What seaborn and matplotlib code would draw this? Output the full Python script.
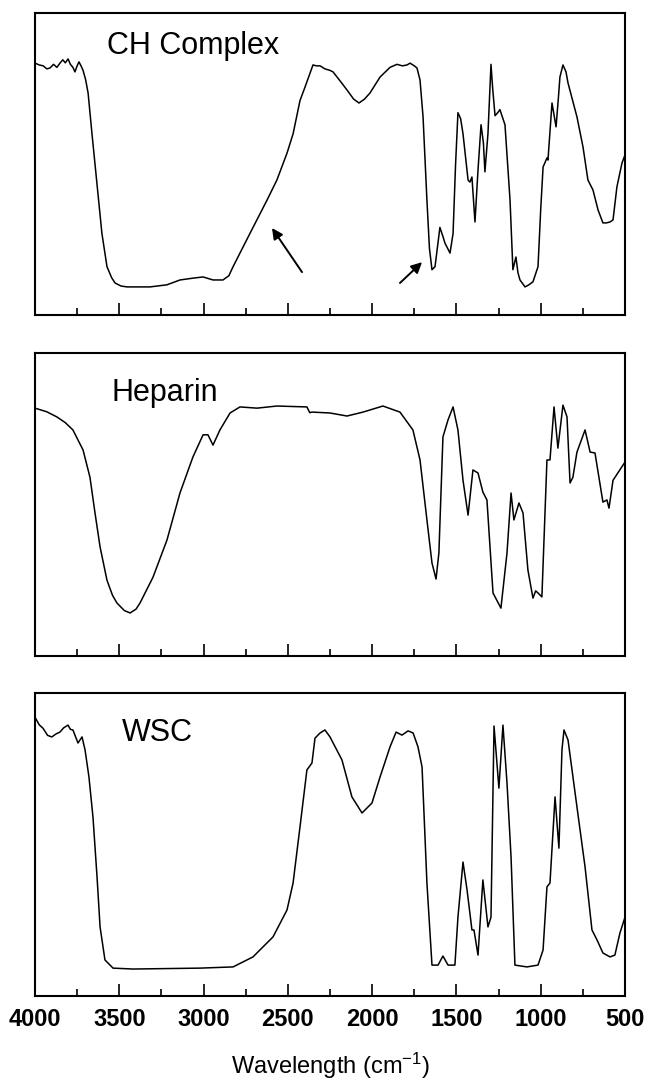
import numpy as np
import pandas as pd
import matplotlib
matplotlib.use("Agg")
import matplotlib.pyplot as plt
from matplotlib.ticker import MultipleLocator
import seaborn as sns

# ---------------- data ----------------
ch_wavenumber = [4000, 3975, 3951, 3930, 3911, 3890, 3870, 3852, 3835, 3820, 3804, 3790, 3775, 3763,
                 3750, 3739, 3727, 3715, 3700, 3685, 3662, 3633, 3603, 3573, 3545, 3525, 3490, 3454,
                 3318, 3217, 3140, 3063, 3003, 2944, 2885, 2850, 2825, 2775, 2725, 2624, 2565, 2505,
                 2469, 2428, 2398, 2369, 2351, 2330, 2309, 2280, 2250, 2232, 2190, 2149, 2110, 2078,
                 2045, 2013, 1953, 1894, 1853, 1820, 1793, 1775, 1750, 1734, 1716, 1698, 1675, 1660,
                 1645, 1627, 1598, 1580, 1568, 1538, 1520, 1505, 1491, 1475, 1461, 1431, 1420, 1408,
                 1390, 1372, 1354, 1340, 1331, 1313, 1295, 1285, 1271, 1255, 1242, 1212, 1182, 1165,
                 1147, 1135, 1123, 1093, 1070, 1046, 1016, 1000, 986, 963, 957, 933, 909, 895, 886,
                 868, 850, 838, 785, 749, 720, 690, 660, 631, 610, 589, 571, 548, 518, 500]
ch_signal = [83.4, 82.8, 82.5, 81.5, 81.8, 83.0, 82.0, 83.4, 84.5, 83.5, 84.8, 83.0, 82.0, 80.5,
             82.5, 83.8, 82.5, 81.0, 78.0, 73.5, 60.0, 43.7, 27.0, 16.0, 12.3, 10.6, 9.6, 9.3,
             9.3, 10.0, 11.6, 12.2, 12.6, 11.6, 11.6, 13.0, 16.0, 21.5, 27.0, 38.0, 44.7, 53.6,
             60.0, 71.0, 75.5, 80.0, 82.8, 82.5, 82.5, 81.5, 81.0, 80.5, 77.5, 74.5, 71.5, 70.2,
             71.5, 73.5, 78.8, 82.0, 83.0, 82.5, 82.8, 83.4, 82.5, 81.8, 77.8, 65.6, 38.0, 22.0,
             15.0, 16.0, 29.0, 26.0, 23.8, 20.5, 27.0, 50.0, 67.0, 65.0, 60.0, 44.7, 44.0, 45.7,
             30.8, 48.0, 63.0, 57.0, 47.4, 60.0, 83.0, 75.0, 66.0, 67.0, 68.0, 63.0, 38.0, 15.0,
             19.2, 14.0, 11.6, 9.3, 10.0, 11.0, 16.0, 35.0, 49.0, 52.0, 51.3, 70.2, 62.3, 72.0,
             78.8, 82.8, 80.5, 76.8, 65.6, 55.6, 44.7, 41.4, 34.8, 30.5, 30.5, 30.8, 31.5, 42.4,
             50.3, 53.0]

hep_wavenumber = [4000, 3930, 3870, 3820, 3775, 3715, 3674, 3644, 3614, 3573, 3540, 3514, 3470, 3436,
                  3400, 3377, 3300, 3217, 3140, 3063, 3003, 2974, 2944, 2903, 2843, 2784, 2683, 2565,
                  2387, 2370, 2357, 2250, 2149, 2054, 1936, 1835, 1758, 1716, 1675, 1645, 1621, 1604,
                  1580, 1550, 1520, 1491, 1461, 1431, 1402, 1372, 1343, 1319, 1283, 1236, 1200, 1176,
                  1159, 1129, 1105, 1076, 1046, 1030, 1016, 993, 963, 945, 921, 898, 868, 844, 826,
                  809, 785, 737, 707, 678, 631, 607, 595, 571, 500]
hep_signal = [81.8, 80.6, 78.9, 77.0, 74.6, 68.0, 59.0, 47.2, 36.0, 25.0, 20.0, 17.5, 15.0, 14.2,
              15.5, 17.5, 26.0, 38.3, 53.8, 65.7, 73.0, 73.0, 69.6, 74.6, 80.2, 82.2, 81.8, 82.5,
              82.2, 80.3, 80.5, 80.2, 79.2, 80.5, 82.5, 80.5, 74.6, 64.7, 44.9, 30.7, 25.4, 34.0,
              72.3, 77.9, 82.2, 74.6, 58.0, 46.5, 61.4, 60.4, 54.1, 51.5, 20.8, 15.8, 34.0, 53.8,
              44.9, 50.5, 47.2, 28.4, 19.1, 21.5, 20.8, 19.5, 64.7, 64.7, 82.2, 68.6, 82.8, 78.9,
              57.1, 59.0, 67.3, 74.6, 67.3, 67.0, 50.8, 51.5, 48.8, 58.0, 64.0]

wsc_wavenumber = [4000, 3975, 3953, 3925, 3900, 3875, 3852, 3830, 3804, 3790, 3775, 3745, 3721, 3703,
                  3680, 3656, 3632, 3614, 3585, 3537, 3419, 3021, 2825, 2707, 2588, 2505, 2469, 2428,
                  2387, 2357, 2339, 2309, 2280, 2250, 2179, 2120, 2060, 2001, 1953, 1894, 1858, 1823,
                  1787, 1757, 1728, 1704, 1675, 1645, 1609, 1580, 1550, 1509, 1491, 1461, 1437, 1408,
                  1396, 1372, 1343, 1313, 1295, 1277, 1248, 1224, 1200, 1176, 1153, 1082, 1016, 986,
                  963, 945, 915, 892, 874, 862, 838, 785, 737, 696, 666, 631, 589, 560, 530, 500]
wsc_signal = [92.0, 89.5, 88.4, 86.0, 85.5, 86.5, 87.1, 88.5, 89.4, 88.0, 87.8, 83.5, 85.5, 81.2,
              72.3, 59.0, 39.3, 22.8, 11.9, 9.2, 8.9, 9.2, 9.6, 12.9, 19.5, 28.4, 37.3, 55.8,
              74.6, 76.9, 85.1, 86.8, 87.8, 85.5, 77.9, 65.7, 60.4, 63.7, 72.3, 82.2, 87.1, 86.1,
              87.5, 86.8, 82.2, 75.6, 37.3, 10.2, 10.2, 13.2, 10.2, 10.2, 26.0, 44.2, 35.0, 21.8,
              21.8, 13.5, 38.3, 22.8, 26.0, 89.1, 68.6, 89.4, 70.3, 45.9, 10.2, 9.6, 10.2, 15.2,
              36.0, 37.3, 65.7, 48.8, 81.2, 87.8, 84.5, 62.4, 42.6, 21.8, 18.5, 14.2, 12.9, 13.5,
              20.8, 26.0]

panel_names = ["CH Complex", "Heparin", "WSC"]
tick_values = [4000, 3500, 3000, 2500, 2000, 1500, 1000, 500]
x_label = "Wavelength (cm$^{-1}$)"

# arrows on the CH Complex panel
arrow_tails_w = [2416, 1835]
arrow_tails_y = [14.2, 10.6]
arrow_heads_w = [2594, 1704]
arrow_heads_y = [28.8, 17.5]

# ---------------- style ----------------
sns.set_style("ticks")
plt.rcParams["font.family"] = ["Liberation Sans", "DejaVu Sans"]
plt.rcParams["mathtext.fontset"] = "custom"
plt.rcParams["mathtext.rm"] = "Liberation Sans"
plt.rcParams["mathtext.it"] = "Liberation Sans:italic"
plt.rcParams["mathtext.bf"] = "Liberation Sans:bold"
for k in ["text.color", "axes.labelcolor", "xtick.color", "ytick.color", "axes.edgecolor"]:
    plt.rcParams[k] = "black"

W, H = 649, 1085
fig = plt.figure(figsize=(W / 100, H / 100), dpi=100)

left_px, right_px = 35, 625
panels_px = [(13, 315), (353, 656), (693, 996)]

series = [(ch_wavenumber, ch_signal), (hep_wavenumber, hep_signal), (wsc_wavenumber, wsc_signal)]
title_pos = [(0.122, 0.89), (0.13, 0.868), (0.147, 0.868)]

axes = []
for i, ((top, bot), (xw, ys)) in enumerate(zip(panels_px, series)):
    ax = fig.add_axes([left_px / W, 1 - bot / H, (right_px - left_px) / W, (bot - top) / H])
    df = pd.DataFrame({"w": xw, "t": ys})
    sns.lineplot(data=df, x="w", y="t", ax=ax, color="black", linewidth=1.1,
                 estimator=None, sort=False)
    ax.set_xlim(4000, 500)
    ax.set_ylim(0, 100)
    ax.set_yticks([])
    ax.set_ylabel("")
    ax.set_xlabel("")
    ax.xaxis.set_major_locator(MultipleLocator(500))
    ax.xaxis.set_minor_locator(MultipleLocator(250))
    ax.tick_params(axis="x", which="major", direction="in", length=8.5, width=1.2,
                   top=False, bottom=True, color="black")
    ax.tick_params(axis="x", which="minor", direction="in", length=5, width=1.2,
                   top=False, bottom=True, color="black")
    for s in ax.spines.values():
        s.set_linewidth(1.5)
        s.set_color("black")
        s.set_visible(True)
    tx, ty = title_pos[i]
    ax.text(tx, ty, panel_names[i], transform=ax.transAxes, fontsize=22,
            ha="left", va="center", color="black")
    if i < 2:
        ax.set_xticklabels([])
    else:
        ax.set_xticks(tick_values)
        ax.set_xticklabels([str(v) for v in tick_values], fontsize=17, fontweight="bold",
                           color="black")
        ax.tick_params(axis="x", which="major", pad=9)
        ax.set_xlabel(x_label, fontsize=17, labelpad=14, color="black")
    axes.append(ax)

for tw, ty_, hw, hy in zip(arrow_tails_w, arrow_tails_y, arrow_heads_w, arrow_heads_y):
    axes[0].annotate("", xy=(hw, hy), xytext=(tw, ty_),
                     arrowprops=dict(arrowstyle="-|>", color="black", lw=1.4,
                                     mutation_scale=16, shrinkA=0, shrinkB=0))

fig.savefig("out.png", dpi=100)
